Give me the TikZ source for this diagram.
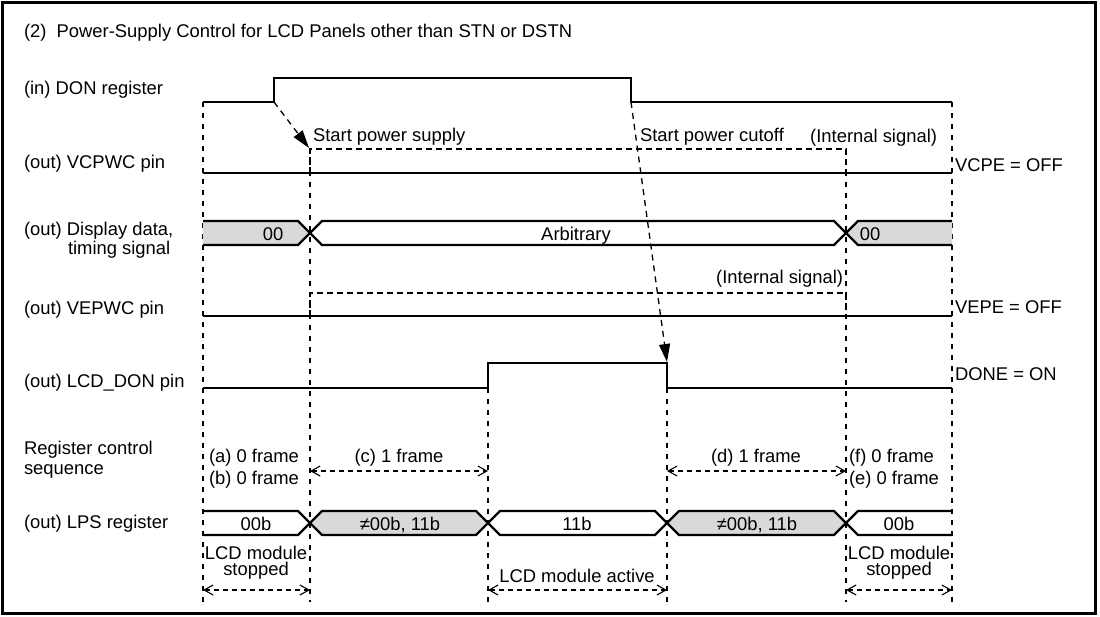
\documentclass[tikz,border=0pt]{standalone}
\usepackage{fontspec}
\setmainfont{Liberation Sans}
\usetikzlibrary{arrows.meta}
\begin{document}
\begin{tikzpicture}[x=1pt,y=-1pt,
  txt/.style={font=\fontsize{18.4}{20}\selectfont, inner sep=0pt, outer sep=0pt},
  lbl/.style={txt, anchor=base west},
  ctr/.style={txt, anchor=base},
  rgt/.style={txt, anchor=base east},
  twoline/.style={font=\fontsize{18.4}{16}\selectfont, inner sep=0pt, outer sep=0pt, anchor=base, align=center},
  sig/.style={line width=2.2pt, line join=miter, line cap=butt},
  intsig/.style={line width=2.2pt, dash pattern=on 6pt off 4pt},
  guide/.style={line width=1.1pt, dash pattern=on 5pt off 6pt},
  cause/.style={line width=1.3pt, dash pattern=on 6pt off 5pt, -{Triangle[length=18pt,width=11pt]}},
  span/.style={line width=1.1pt, dash pattern=on 5pt off 4pt,
    {Straight Barb[length=9pt,width=10pt,line width=1.1pt]}-{Straight Barb[length=9pt,width=10pt,line width=1.1pt]}},
  busfill/.style={fill=black!15},
]
\useasboundingbox (0,0) rectangle (1100,616);
\fill[white] (0,0) rectangle (1100,616);
\draw[line width=3pt] (2.5,2.5) rectangle (1095.5,613.5);

\def\xa{203}\def\xb{310}\def\xc{488}\def\xd{667}\def\xe{846}\def\xf{952}

% guide lines
\draw[guide] (\xa,102) -- (\xa,602);
\draw[guide] (\xb,149) -- (\xb,602);
\draw[guide] (\xc,388) -- (\xc,602);
\draw[guide] (\xd,388) -- (\xd,602);
\draw[guide] (\xe,149) -- (\xe,602);
\draw[guide] (\xf,102) -- (\xf,602);

% title and labels
\node[lbl] (title) at (24,37.5) {(2)\ \ Power-Supply Control for LCD Panels other than STN or DSTN};
\node[lbl] (ldon) at (24,94) {(in) DON register};
\node[lbl] (lvcp) at (24,168) {(out) VCPWC pin};
\node[lbl] (ldisp) at (24,235) {(out) Display data,};
\node[lbl] (ldisp2) at (68,254) {timing signal};
\node[lbl] (lvep) at (24,314) {(out) VEPWC pin};
\node[lbl] (llcd) at (24,387) {(out) LCD\_DON pin};
\node[lbl] (lreg) at (24,454) {Register control};
\node[lbl] (lreg2) at (24,474) {sequence};
\node[lbl] (llps) at (24,528) {(out) LPS register};

\node[lbl] (rvcp) at (955,171) {VCPE = OFF};
\node[lbl] (rvep) at (955,313) {VEPE = OFF};
\node[lbl] (rdone) at (955,380) {DONE = ON};

% DON register
\draw[sig] (\xa,102) -- (274,102) coordinate (donup) -- (274,78) -- (631,78) -- (631,102) coordinate (dondown) -- (\xf,102);

% VCPWC
\draw[sig] (\xa,173) -- (\xf,173);
\draw[intsig] (\xb,173) -- (\xb,149) coordinate (vcpon) -- (\xe,149) -- (\xe,173);
\node[lbl] (sps) at (313,141) {Start power supply};
\node[lbl] (spc) at (640,141) {Start power cutoff};
\node[rgt] (int1) at (937,142) {(Internal signal)};

% Display data bus
\fill[busfill] (\xa,221) -- (298,221) -- (\xb,233) -- (298,245) -- (\xa,245) -- cycle;
\fill[busfill] (\xf,221) -- (858,221) -- (\xe,233) -- (858,245) -- (\xf,245) -- cycle;
\draw[sig] (\xa,221) -- (298,221) -- (322,245) -- (834,245) -- (858,221) -- (\xf,221);
\draw[sig] (\xa,245) -- (298,245) -- (322,221) -- (834,221) -- (858,245) -- (\xf,245);
\node[ctr] (d00a) at (273,240) {00};
\node[ctr] (darb) at (576,240) {Arbitrary};
\node[ctr] (d00b) at (870,240) {00};

% VEPWC
\draw[sig] (\xa,316) -- (\xf,316);
\draw[intsig] (\xb,316) -- (\xb,293) -- (\xe,293) -- (\xe,316);
\node[rgt] (int2) at (843,283) {(Internal signal)};

% LCD_DON
\draw[sig] (\xa,388) -- (\xc,388) -- (\xc,363) -- (\xd,363) -- (\xd,388) coordinate (lcdoff) -- (\xf,388);

% cause arrows
\coordinate (lcdtip) at (\xd,362);
\coordinate (vcptip) at (309,148);
\draw[cause] (donup) -- (vcptip);
\draw[cause] (dondown) -- (lcdtip);

% register control sequence
\node[lbl] (sa) at (209,462) {(a) 0 frame};
\node[lbl] (sb) at (209,484) {(b) 0 frame};
\node[ctr] (sc) at (399,462) {(c) 1 frame};
\node[ctr] (sd) at (756,462) {(d) 1 frame};
\node[lbl] (sf) at (849,462) {(f) 0 frame};
\node[lbl] (se) at (849,484) {(e) 0 frame};
\draw[span] (\xb,471) -- (\xc,471);
\draw[span] (\xd,471) -- (\xe,471);

% LPS register bus
\fill[busfill] (\xb,523) -- (322,511) -- (476,511) -- (\xc,523) -- (476,535) -- (322,535) -- cycle;
\fill[busfill] (\xd,523) -- (679,511) -- (834,511) -- (\xe,523) -- (834,535) -- (679,535) -- cycle;
\draw[sig] (\xa,511) -- (298,511) -- (322,535) -- (476,535) -- (500,511) -- (655,511) -- (679,535) -- (834,535) -- (858,511) -- (\xf,511);
\draw[sig] (\xa,535) -- (298,535) -- (322,511) -- (476,511) -- (500,535) -- (655,535) -- (679,511) -- (834,511) -- (858,535) -- (\xf,535);
\node[ctr] (p1) at (256,530) {00b};
\node[ctr] (p2) at (400,530) {≠00b, 11b};
\node[ctr] (p3) at (577,530) {11b};
\node[ctr] (p4) at (757,530) {≠00b, 11b};
\node[ctr] (p5) at (899,530) {00b};

% module state
\node[twoline] (st1) at (256,575) {LCD module\\stopped};
\node[ctr] (act) at (577,582) {LCD module active};
\node[twoline] (st2) at (899,575) {LCD module\\stopped};
\draw[span] (\xa,590) -- (\xb,590);
\draw[span] (\xc,590) -- (\xd,590);
\draw[span] (\xe,590) -- (\xf,590);
\end{tikzpicture}
\end{document}
